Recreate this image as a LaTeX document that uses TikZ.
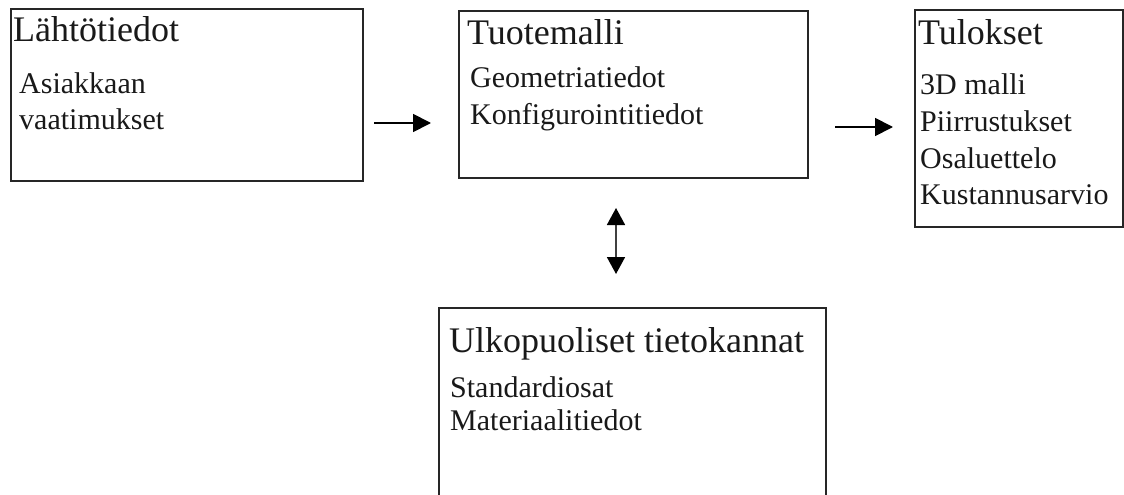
\documentclass[tikz,border=0pt]{standalone}
\usepackage{fontspec}
\setmainfont{Liberation Serif}
\usetikzlibrary{arrows.meta}
\begin{document}
\begin{tikzpicture}[x=1pt,y=-1pt,
  box/.style={draw=black!85, line width=1.6pt, rectangle, anchor=north west, inner sep=0pt},
  head/.style={anchor=base west, inner sep=0pt, font=\fontsize{36}{40}\selectfont, text=black!90},
  item/.style={anchor=base west, inner sep=0pt, font=\fontsize{30}{36}\selectfont, text=black!90},
  arr/.style={line width=1.8pt, -{Triangle[length=18pt,width=18pt]}},
  dbl/.style={line width=1.8pt, draw=black!75, {Triangle[length=17pt,width=18pt,fill=black,color=black]}-{Triangle[length=17pt,width=18pt,fill=black,color=black]}}]
\clip (0,0) rectangle (1124,495);
\useasboundingbox (0,0) rectangle (1124,495);

% boxes
\node[box, minimum width=352pt, minimum height=172pt] (b1) at (10,8) {};
\node[box, minimum width=349pt, minimum height=167pt] (b2) at (458,10) {};
\node[box, minimum width=208pt, minimum height=217pt] (b3) at (914,9) {};
\node[box, minimum width=387pt, minimum height=230pt] (b4) at (438,307) {};

% texts
\node[head] (t1) at (13,42) {Lähtötiedot};
\node[item] (t1a) at (19,93) {Asiakkaan};
\node[item] (t1b) at (19,129) {vaatimukset};

\node[head] (t2) at (467,45) {Tuotemalli};
\node[item] (t2a) at (470,87) {Geometriatiedot};
\node[item] (t2b) at (470,124) {Konfigurointitiedot};

\node[head] (t3) at (918,45) {Tulokset};
\node[item] (t3a) at (920,94) {3D malli};
\node[item] (t3b) at (920,131) {Piirrustukset};
\node[item] (t3c) at (920,168) {Osaluettelo};
\node[item] (t3d) at (920,204) {Kustannusarvio};

\node[head] (t4) at (449,352) {Ulkopuoliset tietokannat};
\node[item] (t4a) at (450,397) {Standardiosat};
\node[item] (t4b) at (450,430) {Materiaalitiedot};

% connectors
\coordinate (a1s) at (374,123);
\coordinate (a1e) at (431,123);
\coordinate (a2s) at (835,127);
\coordinate (a2e) at (893,127);
\coordinate (a3s) at (616,208);
\coordinate (a3e) at (616,274);
\draw[arr] (a1s) -- (a1e);
\draw[arr] (a2s) -- (a2e);
\draw[dbl] (a3s) -- (a3e);
\end{tikzpicture}
\end{document}
